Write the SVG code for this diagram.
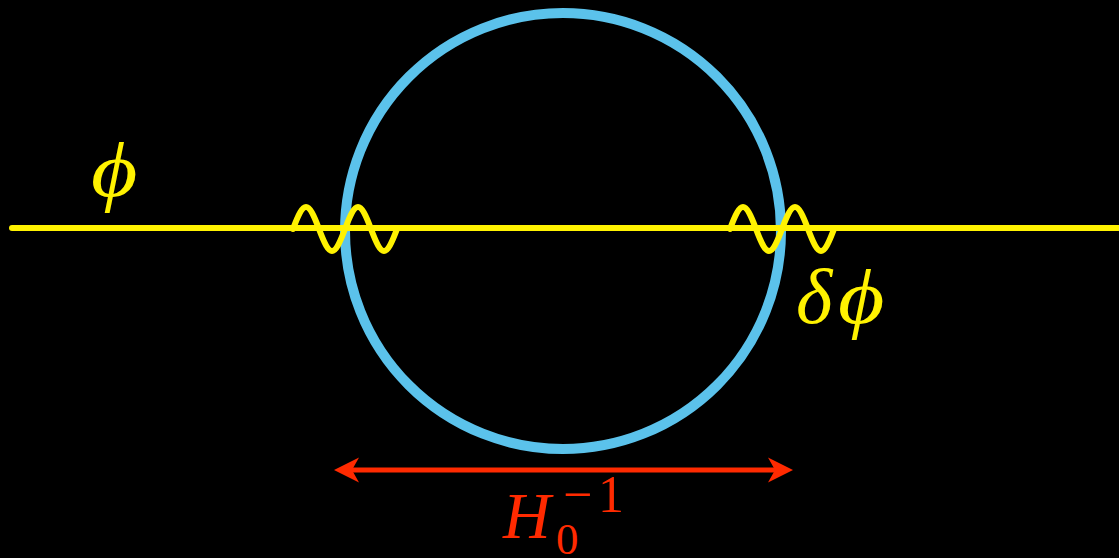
<svg xmlns="http://www.w3.org/2000/svg" width="1119" height="558" viewBox="0 0 1119 558">
<style>
.y{fill:none;stroke:#FFF200;stroke-width:6;stroke-linecap:round;stroke-linejoin:round}
.m{font-family:"Liberation Serif","DejaVu Serif",serif;font-style:italic}
.n{font-family:"Liberation Serif","DejaVu Serif",serif;font-style:normal}
.r{fill:#FF2A00}
</style>
<rect width="1119" height="558" fill="#000"/>
<g id="horizon">
<circle cx="563" cy="231" r="218" fill="none" stroke="#5BC2EB" stroke-width="10"/>
</g>
<g id="field">
<line class="y" x1="12" y1="228" x2="1125" y2="228"/>
<path class="y" d="M293 229 c11 -29.3 15 -29.3 26 0 c11 29.3 15 29.3 26 0 c11 -29.3 15 -29.3 26 0 c11 29.3 15 29.3 26 0"/>
<path class="y" d="M730 229 c11 -29.3 15 -29.3 26 0 c11 29.3 15 29.3 26 0 c11 -29.3 15 -29.3 26 0 c11 29.3 15 29.3 26 0"/>
<text class="m" transform="translate(91 196) scale(1.15 1)" font-size="78" fill="#FFF200">ϕ</text>
<text class="m" x="796" y="323" font-size="78" fill="#FFF200">δ</text>
<text class="m" transform="translate(838 323) scale(1.15 1)" font-size="78" fill="#FFF200">ϕ</text>
</g>
<g id="scale">
<line x1="345" y1="470" x2="782" y2="470" stroke="#FF2A00" stroke-width="5"/>
<path class="r" d="M334 470 L359 457.5 L352 470 L359 482.5 Z"/>
<path class="r" d="M793 470 L768 457.5 L775 470 L768 482.5 Z"/>
<text class="m r" x="503" y="538" font-size="66">H</text>
<text class="n r" x="556" y="554" font-size="45">0</text>
<text class="n r" x="563" y="512" font-size="52">−<tspan x="598">1</tspan></text>
</g>
</svg>
